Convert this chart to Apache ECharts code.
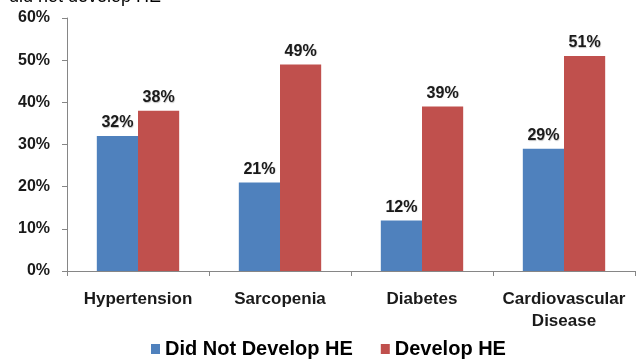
<!DOCTYPE html>
<html>
<head>
<meta charset="utf-8">
<script src="https://cdn.jsdelivr.net/npm/echarts@6/dist/echarts.min.js"></script>
<style>
  html, body { margin: 0; padding: 0; background: #fff; }
  #chart { width: 637px; height: 360px; }
</style>
</head>
<body>
<div id="chart"></div>
<script>
const categories = ['Hypertension', 'Sarcopenia', 'Diabetes', 'Cardiovascular\nDisease'];
const didNotDevelop = [32, 21, 12, 29];
const developHE = [38, 49, 39, 51];
const yTicks = [0, 10, 20, 30, 40, 50, 60];

const font = '"Liberation Sans", Arial, sans-serif';
const labelStyle = {
  show: true,
  position: 'top',
  distance: 5,
  formatter: '{c}%',
  color: '#1a1a1a',
  fontFamily: font,
  fontWeight: 'bold',
  fontSize: 16,
  textShadowColor: 'rgba(0,0,0,0.25)',
  textShadowBlur: 1,
  textShadowOffsetX: 0.5,
  textShadowOffsetY: 0.5
};

const chart = echarts.init(document.getElementById('chart'));
chart.setOption({
  animation: false,
  graphic: [{
    type: 'text',
    left: 9,
    top: -12,
    style: { text: 'did not develop HE', fontFamily: font, fontSize: 18, fill: '#000' }
  }],
  grid: { left: 67, right: 2, top: 18, bottom: 89 },
  legend: {
    top: 334,
    left: 146,
    itemWidth: 9,
    itemHeight: 10,
    itemGap: 28,
    icon: 'rect',
    textStyle: { fontFamily: font, fontWeight: 'bold', fontSize: 20, color: '#000' },
    data: ['Did Not Develop HE', 'Develop HE']
  },
  xAxis: {
    type: 'category',
    data: categories,
    axisLine: { lineStyle: { color: '#868686' } },
    axisTick: { show: true, length: 5, lineStyle: { color: '#868686' } },
    axisLabel: {
      interval: 0,
      margin: 17,
      color: '#1a1a1a',
      fontFamily: font,
      fontWeight: 'bold',
      fontSize: 17,
      lineHeight: 22
    }
  },
  yAxis: {
    type: 'value',
    min: 0,
    max: 60,
    interval: 10,
    axisLine: { show: true, lineStyle: { color: '#868686' } },
    axisTick: { show: true, length: 5, lineStyle: { color: '#868686' } },
    splitLine: { show: false },
    axisLabel: {
      margin: 17,
      formatter: v => yTicks.includes(v) ? v + '%' : '',
      color: '#1a1a1a',
      fontFamily: font,
      fontWeight: 'bold',
      fontSize: 16
    }
  },
  series: [
    {
      name: 'Did Not Develop HE',
      type: 'bar',
      data: didNotDevelop,
      itemStyle: { color: '#4F81BD' },
      barGap: '0%',
      barCategoryGap: '42%',
      label: labelStyle
    },
    {
      name: 'Develop HE',
      type: 'bar',
      data: developHE,
      itemStyle: { color: '#C0504D' },
      label: labelStyle
    }
  ]
});
</script>
</body>
</html>
